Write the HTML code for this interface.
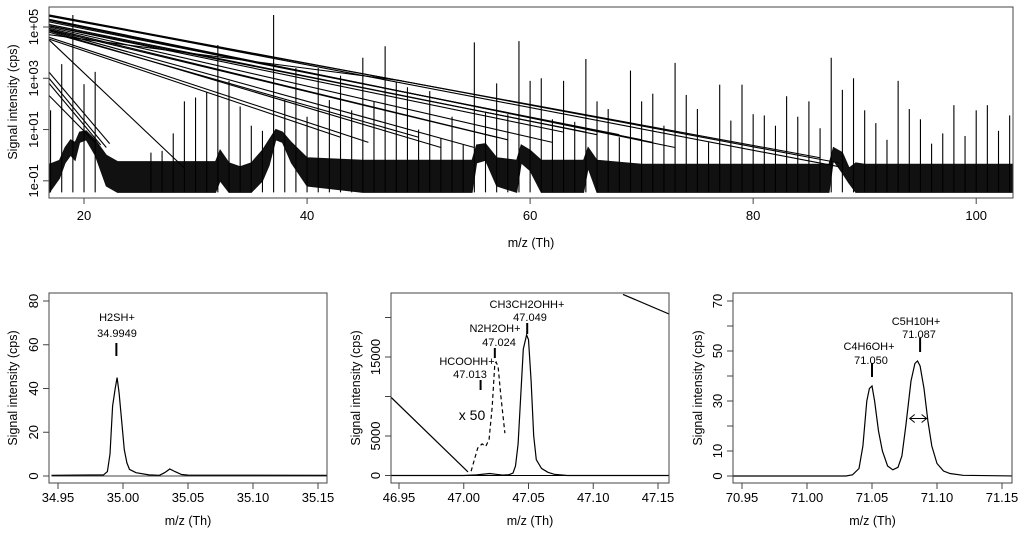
<!DOCTYPE html>
<html><head><meta charset="utf-8"><style>
html,body{margin:0;padding:0;background:#fff;}
svg{display:block;font-family:"Liberation Sans",Arial,sans-serif;}
</style></head><body>
<svg id="fig" width="1024" height="535" viewBox="0 0 1024 535" xmlns="http://www.w3.org/2000/svg"></svg>
<script>
// ---------- TOP PANEL DATA ----------
const spikeMz = [17,18,19,20,21,26,27,28,29,30,31,32,33,34,35,36,37,38,39,40,41,42,43,44,45,46,47,48,49,50,51,52,53,54,55,56,57,58,59,60,61,62,63,64,65,66,67,68,69,70,71,72,73,74,75,76,77,78,79,80,81,82,83,84,85,86,87,88,89,90,91,92,93,94,95,96,97,98,99,100,101,102,103];
const spikeLog = [1.75,3.55,5.47,2.77,3.25,0.1,0.17,0.85,2.1,2.25,2.45,4.3,2.9,1.9,1.15,0.95,5.47,2.15,3.4,1.5,3.4,2.15,3.1,1.75,3.8,2.1,4.25,2.85,2.65,1.0,2.5,0.65,1.5,0.4,4.4,1.7,2.8,1.6,4.45,2.9,3.0,1.4,2.9,1.3,3.75,2.1,1.8,0.7,3.3,2.1,2.4,1.15,3.6,2.35,1.8,0.5,2.75,1.35,2.75,1.6,1.55,1.15,2.3,1.5,2.1,1.05,3.8,2.55,3.0,1.75,1.25,0.6,2.9,1.8,1.4,0.45,0.85,1.95,0.75,1.75,1.95,0.95,1.55];
const lineStartLog = [5.47,5.45,5.42,5.3,5.27,5.25,5.2,5.1,5.05,5.04,5.0,4.95,4.9,4.88,4.85,4.8,4.7,4.6,4.53,4.5,3.24,3.0,2.8,2.33];
const lineEndMz    = [87.7,87.7,86.0,73,71,70,68,66,65,63,62,58,57,55,52,50,48.5,45.5,43,29,22.3,22.0,21.5,21];
const lineEndLog   = [-0.3,-0.45,-0.1,0.3,0.5,0.6,0.8,0.8,0.9,0.9,0.5,0.6,0.7,0.3,0.3,0.7,2.9,0.5,0.7,-0.5,0.45,0.3,0.4,0.5];
const noiseMz  = [16.9,17.8,18.3,18.8,19.2,19.6,20.2,21.0,22.0,23,31.8,32.2,33,34,35,36,36.6,37.2,37.8,38.6,40,45,54.8,55.2,56,57,58.8,59.2,60,61,64.8,65.2,66,70,86.8,87.2,88,88.6,89.2,90,103.3];
const noiseTop = [-0.35,-0.2,0.3,0.6,0.5,0.9,0.95,0.6,0.0,-0.25,-0.25,0.2,-0.3,-0.45,-0.3,0.2,0.6,1.0,0.9,0.5,-0.1,-0.2,-0.2,0.4,0.45,-0.1,-0.2,0.4,0.2,-0.2,-0.2,0.3,-0.2,-0.35,-0.35,0.3,0.1,-0.5,-0.3,-0.35,-0.35];
const noiseBot = [-1.45,-0.9,-0.3,0.0,-0.2,0.5,0.6,0.0,-1.2,-1.45,-1.45,-1.0,-1.45,-1.45,-1.45,-1.0,-0.4,0.6,0.5,-0.3,-1.2,-1.45,-1.45,-0.3,-0.2,-1.2,-1.45,-0.3,-0.6,-1.45,-1.45,-0.5,-1.45,-1.45,-1.45,-0.2,-0.7,-1.1,-1.45,-1.45,-1.45];
const topXTicks = [20,40,60,80,100];
const topYTicks = [-1,1,3,5];
const topYLabels = ["1e-01","1e+01","1e+03","1e+05"];

// ---------- BOTTOM PANEL DATA ----------
const p1X = [34.945,34.985,34.988,34.990,34.992,34.994,34.9955,34.997,34.999,35.001,35.003,35.005,35.010,35.020,35.028,35.032,35.036,35.040,35.045,35.050,35.160];
const p1Y = [0.3,0.5,2,10,32,40,45,38,25,12,6,3,1.5,0.5,0.3,1.5,3.2,2,0.7,0.4,0.3];
const p1YTicks = [0,20,40,60,80];
const p2X = [46.943,47.000,47.010,47.020,47.025,47.030,47.035,47.038,47.040,47.042,47.044,47.046,47.0485,47.050,47.052,47.054,47.056,47.060,47.065,47.070,47.080,47.160];
const p2Y = [0,0,80,250,150,50,100,300,1200,4000,10000,16000,17800,17200,12000,5000,2000,900,400,150,0,0];
const p2DashX = [47.0057,47.0108,47.0142,47.017,47.0196,47.022,47.024,47.025,47.0265,47.0287,47.0318];
const p2DashY = [540,3470,4000,3680,4600,8700,14100,14350,13800,10000,5360];
const p2LineAX = [46.943,47.0033], p2LineAY = [10040,460];
const p2LineBX = [47.123,47.159], p2LineBY = [22930,20400];
const p2YTicks = [0,5000,10000,15000,20000];
const p2YLabels = ["0","5000","","15000",""];
const p3X = [70.94,71.030,71.035,71.040,71.043,71.046,71.048,71.050,71.052,71.055,71.058,71.062,71.066,71.070,71.073,71.076,71.080,71.083,71.085,71.087,71.090,71.093,71.096,71.100,71.105,71.110,71.120,71.160];
const p3Y = [0,0,0.5,3,12,30,35,36,30,18,10,4,2.5,3.5,8,20,38,45,46,44,35,22,12,5,2,1,0.3,0];
const p3YTicks = [0,10,20,30,40,50,60,70];
const p3YLabels = ["0","10","","30","","50","","70"];
const bottomXTicksA = [34.95,35.00,35.05,35.10,35.15];
const bottomXTicksB = [46.95,47.00,47.05,47.10,47.15];
const bottomXTicksC = [70.95,71.00,71.05,71.10,71.15];

// ---------- helpers ----------
const svg = document.getElementById('fig');
const NS = 'http://www.w3.org/2000/svg';
function mk(tag, attrs, parent){
  const e = document.createElementNS(NS, tag);
  for (const k in attrs) e.setAttribute(k, attrs[k]);
  (parent||svg).appendChild(e);
  return e;
}
function txt(s, x, y, size, anchor, parent, rot){
  const t = mk('text', {x:x, y:y, 'font-size':size, 'text-anchor':anchor||'middle', fill:'#000'}, parent);
  if (rot) t.setAttribute('transform', 'rotate(-90 '+x+' '+y+')');
  t.textContent = s;
  return t;
}

// ---------- TOP PANEL ----------
const T = {l:49, r:1013, t:7, b:198, x0:16.86, x1:103.3, y0:-1.67, y1:5.78};
const tx = v => T.l + (v - T.x0) / (T.x1 - T.x0) * (T.r - T.l);
const ty = v => T.b - (v - T.y0) / (T.y1 - T.y0) * (T.b - T.t);
const gTop = mk('g', {});


const clipT = mk('clipPath', {id:'clipT'});
mk('rect', {x:T.l, y:T.t, width:T.r-T.l, height:T.b-T.t}, clipT);
const gTopPlot = mk('g', {'clip-path':'url(#clipT)'}, gTop);
let pts = [];
for (let i=0;i<noiseMz.length;i++) pts.push(tx(noiseMz[i]).toFixed(1)+','+ty(noiseTop[i]).toFixed(1));
for (let i=noiseMz.length-1;i>=0;i--) pts.push(tx(noiseMz[i]).toFixed(1)+','+ty(noiseBot[i]).toFixed(1));
const nb = mk('polygon', {points:pts.join(' '), fill:'#111', stroke:'#111', 'stroke-width':1}, gTopPlot);


for (let i=0;i<spikeMz.length;i++){
  const s = mk('line', {x1:tx(spikeMz[i]), x2:tx(spikeMz[i]), y1:ty(-1.45), y2:ty(spikeLog[i]), stroke:'#000', 'stroke-width':1.1}, gTopPlot);
  
  
}
for (let i=0;i<lineStartLog.length;i++){
  const l = mk('line', {x1:tx(T.x0), y1:ty(lineStartLog[i]), x2:tx(lineEndMz[i]), y2:ty(lineEndLog[i]), stroke:'#000', 'stroke-width':1.1}, gTopPlot);
  
  
}
const fT = mk('rect', {x:T.l, y:T.t, width:T.r-T.l, height:T.b-T.t, fill:'none', stroke:'#444', 'stroke-width':1}, gTop);


for (const v of topXTicks){
  mk('line', {x1:tx(v), x2:tx(v), y1:T.b, y2:T.b+6, stroke:'#444'}, gTop);
  const t = txt(String(v), tx(v), 220, 13, 'middle', gTop);
  
  
}
for (let i=0;i<topYTicks.length;i++){
  mk('line', {x1:T.l-6, x2:T.l, y1:ty(topYTicks[i]), y2:ty(topYTicks[i]), stroke:'#444'}, gTop);
  const t = txt(topYLabels[i], 38, ty(topYTicks[i]), 13, 'middle', gTop, true);
  
  
}
const xtT = txt('m/z (Th)', 531, 247, 12.5, 'middle', gTop);


const ytT = txt('Signal intensity (cps)', 17, 102, 12.5, 'middle', gTop, true);



// ---------- BOTTOM PANELS ----------
function panel(name, box, xr, yr, xTicks, yTicks, yLabels, ytitleX){
  const g = mk('g', {});
  
  
  const sx = v => box.x0px + (v - xr[0]) / (xr[1]-xr[0]) * (box.x1px - box.x0px);
  const sy = v => box.y0px - (v - yr[0]) / (yr[1]-yr[0]) * (box.y0px - box.y1px);
  const cid = 'clip'+name;
  const cp = mk('clipPath', {id:cid});
  mk('rect', {x:box.l, y:box.t, width:box.r-box.l, height:box.b-box.t}, cp);
  const plot = mk('g', {'clip-path':'url(#'+cid+')'}, g);
  const fr = mk('rect', {x:box.l, y:box.t, width:box.r-box.l, height:box.b-box.t, fill:'none', stroke:'#444', 'stroke-width':1}, g);
  
  
  for (const v of xTicks){
    mk('line', {x1:sx(v), x2:sx(v), y1:box.b, y2:box.b+6, stroke:'#444'}, g);
    const t = txt(v.toFixed(2), sx(v), 502, 13, 'middle', g);
    
    
  }
  for (let i=0;i<yTicks.length;i++){
    mk('line', {x1:box.l-6, x2:box.l, y1:sy(yTicks[i]), y2:sy(yTicks[i]), stroke:'#444'}, g);
    if (yLabels[i]){
      const t = txt(yLabels[i], box.l-11, sy(yTicks[i]), 13, 'middle', g, true);
      
      
    }
  }
  const xt = txt('m/z (Th)', (box.l+box.r)/2, 525, 12.5, 'middle', g);
  
  
  const yt = txt('Signal intensity (cps)', ytitleX, (box.t+box.b)/2, 12.5, 'middle', g, true);
  
  
  return {g, plot, sx, sy};
}
function poly(p, xs, ys, dash, name){
  const pts = xs.map((x,i)=>p.sx(x).toFixed(1)+','+p.sy(ys[i]).toFixed(1)).join(' ');
  const e = mk('polyline', {points:pts, fill:'none', stroke:'#000', 'stroke-width':1.2}, p.plot);
  if (dash) e.setAttribute('stroke-dasharray', '4,3');
  
  
  return e;
}
function annot(p, g, label, val, xv, yTop, yBot, lx1, ly1, lx2, ly2){
  mk('line', {x1:p.sx(xv), x2:p.sx(xv), y1:yTop, y2:yBot, stroke:'#000', 'stroke-width':2}, g);
  const a = txt(label, lx1, ly1, 11, 'middle', g);
  
  
  const b = txt(val, lx2, ly2, 11, 'middle', g);
  
  
}

const P1 = panel('h2sh-peak-panel', {l:49,r:327,t:293,b:483,x0px:58,x1px:318,y0px:476,y1px:301}, [34.95,35.15],[0,80], bottomXTicksA, p1YTicks, p1YTicks.map(String), 17);
poly(P1, p1X, p1Y, false, 'h2sh-spectrum-line');
mk('line', {x1:P1.sx(34.945), x2:P1.sx(35.16), y1:P1.sy(0), y2:P1.sy(0), stroke:'#000', 'stroke-width':0.8}, P1.plot);
annot(P1, P1.g, 'H2SH+', '34.9949', 34.9949, 343, 356, 117, 321, 117, 337);

const P2 = panel('mass-47-peak-panel', {l:391,r:669,t:293,b:483,x0px:399,x1px:658,y0px:475.5,y1px:357}, [46.95,47.15],[0,15000], bottomXTicksB, p2YTicks, p2YLabels, 360);
mk('line', {x1:391, x2:669, y1:P2.sy(0), y2:P2.sy(0), stroke:'#000', 'stroke-width':1}, P2.plot);
poly(P2, p2X, p2Y, false, 'ethanol-spectrum-line');
poly(P2, p2DashX, p2DashY, true, 'x50-scaled-spectrum-line');
poly(P2, p2LineAX, p2LineAY, false, 'overview-trace-segment');
poly(P2, p2LineBX, p2LineBY, false, 'overview-trace-segment');
annot(P2, P2.g, 'CH3CH2OHH+', '47.049', 47.049, 323, 334, 527, 308, 530, 321);
annot(P2, P2.g, 'N2H2OH+', '47.024', 47.024, 348, 358, 495, 332, 499, 346);
annot(P2, P2.g, 'HCOOHH+', '47.013', 47.013, 380, 390, 467, 365, 470, 378);
const x50 = txt('x 50', 472, 420, 14, 'middle', P2.g);



const P3 = panel('mass-71-peak-panel', {l:733,r:1012,t:293,b:483,x0px:742,x1px:1002,y0px:476,y1px:301}, [70.95,71.15],[0,70], bottomXTicksC, p3YTicks, p3YLabels, 702);
poly(P3, p3X, p3Y, false, 'mass-71-spectrum-line');
annot(P3, P3.g, 'C4H6OH+', '71.050', 71.050, 363, 377, 869, 350, 871, 364);
annot(P3, P3.g, 'C5H10H+', '71.087', 71.087, 338, 352, 916, 325, 919, 338);
const fy = P3.sy(23), fa = P3.sx(71.079), fb = P3.sx(71.092);
const fw = mk('g', {}, P3.g);


mk('line', {x1:fa, x2:fb, y1:fy, y2:fy, stroke:'#000', 'stroke-width':1}, fw);
mk('polyline', {points:(fa+5)+','+(fy-4)+' '+fa+','+fy+' '+(fa+5)+','+(fy+4), fill:'none', stroke:'#000'}, fw);
mk('polyline', {points:(fb-5)+','+(fy-4)+' '+fb+','+fy+' '+(fb-5)+','+(fy+4), fill:'none', stroke:'#000'}, fw);
</script>
</body></html>
